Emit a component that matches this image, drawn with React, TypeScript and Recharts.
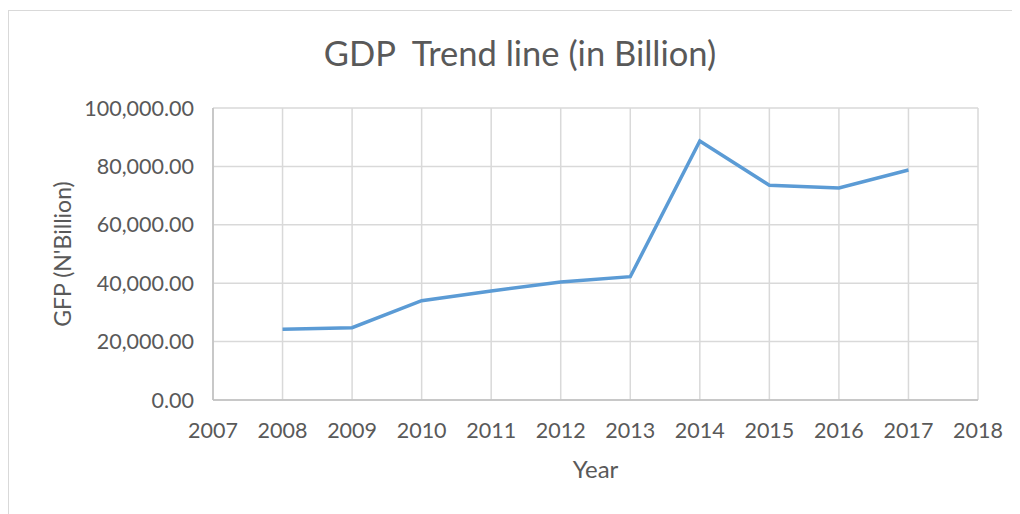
import React from "react"
import { LineChart, Line, XAxis, YAxis, CartesianGrid, Label } from "recharts"

// GDP in N'Billion by year
const years = [2008, 2009, 2010, 2011, 2012, 2013, 2014, 2015, 2016, 2017]
const gdp = [24210, 24760, 34010, 37330, 40410, 42230, 88700, 73520, 72600, 78770]

const xTicks = [2007, 2008, 2009, 2010, 2011, 2012, 2013, 2014, 2015, 2016, 2017, 2018]
const yTicks = [0, 20000, 40000, 60000, 80000, 100000]

const data = years.map((year, i) => ({ year, value: gdp[i] }))

const FONT = "Lato, 'Open Sans', sans-serif"
const TEXT = "#595959"

const fmt = (v: number) =>
  v.toLocaleString("en-US", { minimumFractionDigits: 2, maximumFractionDigits: 2 })

export default function App() {
  return (
    <div
      style={{
        position: "relative",
        width: 1012,
        height: 504,
        marginTop: 2,
        boxSizing: "border-box",
        borderTop: "1px solid #d9d9d9",
        borderLeft: "1px solid #d9d9d9",
        fontFamily: FONT,
      }}
    >
      <div
        style={{
          position: "absolute",
          left: 0,
          top: 21,
          width: 1022,
          textAlign: "center",
          fontSize: 34.5,
          color: TEXT,
          whiteSpace: "pre",
        }}
      >
        {"GDP  Trend line (in Billion)"}
      </div>
      <LineChart
        width={1011}
        height={503}
        data={data}
        margin={{ top: 97, right: 42, bottom: 34, left: 54 }}
      >
        <CartesianGrid stroke="#d9d9d9" strokeWidth={1.5} />
        <XAxis
          dataKey="year"
          type="number"
          domain={[2007, 2018]}
          ticks={xTicks}
          interval={0}
          height={80}
          tickLine={false}
          axisLine={{ stroke: "#bfbfbf", strokeWidth: 1.5 }}
          tickMargin={17}
          tick={{ fill: TEXT, fontSize: 21.5, fontFamily: FONT }}
        >
          <Label
            content={({ viewBox }: any) => (
              <text
                x={viewBox.x + viewBox.width / 2}
                y={viewBox.y + 78}
                textAnchor="middle"
                fill={TEXT}
                fontSize={24}
                fontFamily={FONT}
              >
                Year
              </text>
            )}
          />
        </XAxis>
        <YAxis
          type="number"
          domain={[0, 100000]}
          ticks={yTicks}
          interval={0}
          width={150}
          tickLine={false}
          axisLine={{ stroke: "#bfbfbf", strokeWidth: 1.5 }}
          tickMargin={13}
          tickFormatter={fmt}
          tick={{ fill: TEXT, fontSize: 21.5, fontFamily: FONT }}
        >
          <Label
            content={({ viewBox }: any) => {
              const cx = viewBox.x - 1
              const cy = viewBox.y + viewBox.height / 2
              return (
                <text
                  x={cx}
                  y={cy}
                  transform={`rotate(-90 ${cx} ${cy})`}
                  textAnchor="middle"
                  dominantBaseline="central"
                  fill={TEXT}
                  fontSize={23}
                  fontFamily={FONT}
                >
                  GFP (N'Billion)
                </text>
              )
            }}
          />
        </YAxis>
        <Line
          type="linear"
          dataKey="value"
          stroke="#5b9bd5"
          strokeWidth={3.5}
          dot={false}
          isAnimationActive={false}
        />
      </LineChart>
    </div>
  )
}
